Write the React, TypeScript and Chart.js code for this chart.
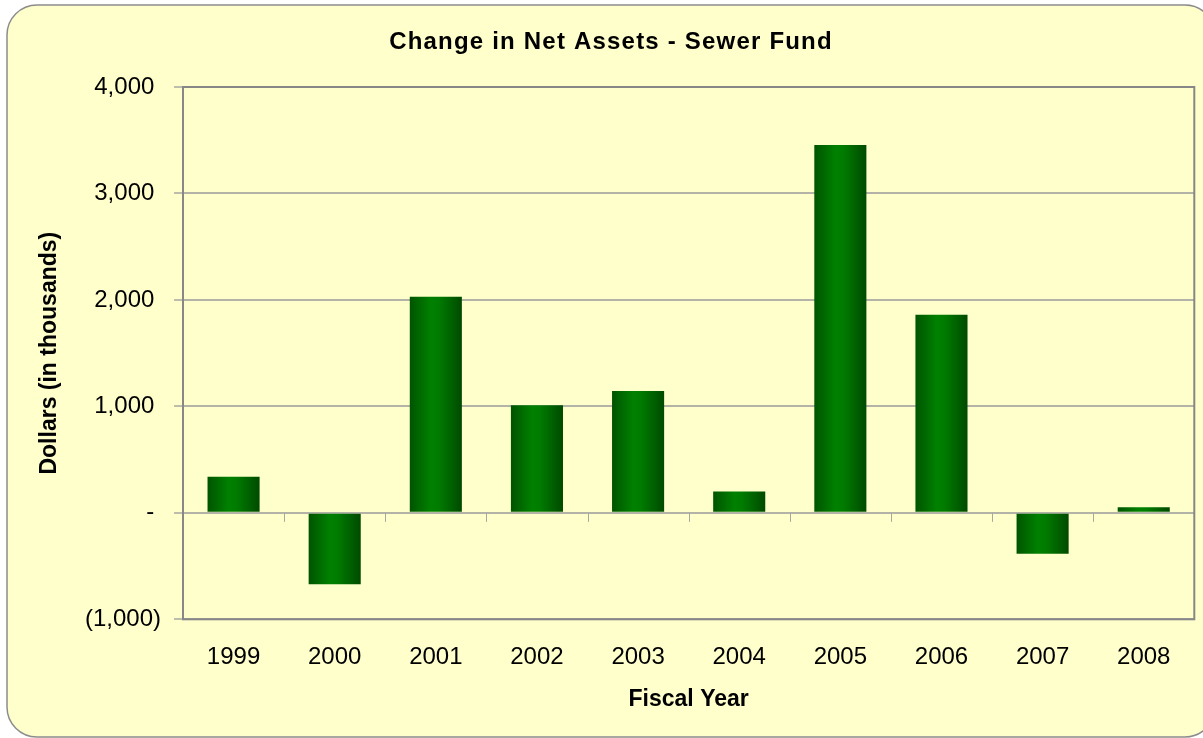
import React, { useEffect, useRef } from "react";
import { Chart, registerables } from "chart.js";

Chart.register(...registerables);

const chartTitle = "Change in Net Assets - Sewer Fund";
const xAxisTitle = "Fiscal Year";
const yAxisTitle = "Dollars (in thousands)";
const years = ["1999", "2000", "2001", "2002", "2003", "2004", "2005", "2006", "2007", "2008"];
const netAssetChange = [340, -670, 2030, 1010, 1145, 200, 3455, 1860, -385, 52];
const yTickValues = [-1000, 0, 1000, 2000, 3000, 4000];
const yTickLabels = ["(1,000)", "-", "1,000", "2,000", "3,000", "4,000"];

const W = 1203;
const H = 738;
const FONT = "'Liberation Sans', Arial, Helvetica, sans-serif";
const BAR_PCT = 0.515;

const backgroundPlugin = {
  id: "panelBackground",
  beforeDraw(chart: any) {
    const c = chart.ctx;
    c.save();
    c.fillStyle = "#ffffff";
    c.fillRect(0, 0, W, H);
    const x = 7, y = 5, w = 1215 - 7, h = 737 - 5, r = 30;
    c.beginPath();
    c.moveTo(x + r, y);
    c.lineTo(x + w - r, y);
    c.arcTo(x + w, y, x + w, y + r, r);
    c.lineTo(x + w, y + h - r);
    c.arcTo(x + w, y + h, x + w - r, y + h, r);
    c.lineTo(x + r, y + h);
    c.arcTo(x, y + h, x, y + h - r, r);
    c.lineTo(x, y + r);
    c.arcTo(x, y, x + r, y, r);
    c.closePath();
    c.fillStyle = "#FFFFCC";
    c.fill();
    c.lineWidth = 1.5;
    c.strokeStyle = "#8c8c8c";
    c.stroke();
    c.restore();
  },
  afterInit(chart: any) {
    const tb = chart.titleBlock;
    if (tb && !tb.__spaced) {
      const orig = tb.draw.bind(tb);
      tb.draw = (area: any) => {
        const c = chart.ctx;
        c.save();
        try { c.letterSpacing = "1.2px"; } catch (e) {}
        orig(area);
        c.restore();
      };
      tb.__spaced = true;
    }
  },
  beforeDatasetsDraw(chart: any) {
    const c = chart.ctx;
    const a = chart.chartArea;
    const xs = chart.scales.x;
    const ys = chart.scales.y;
    const zeroY = ys.getPixelForValue(0);
    c.save();
    c.strokeStyle = "#a8a8a0";
    c.lineWidth = 1;
    for (let i = 1; i < years.length; i++) {
      const bx = Math.round((xs.getPixelForValue(i - 1) + xs.getPixelForValue(i)) / 2) + 0.5;
      c.beginPath();
      c.moveTo(bx, zeroY);
      c.lineTo(bx, zeroY + 9);
      c.stroke();
    }
    c.strokeStyle = "#878787";
    c.lineWidth = 2;
    c.strokeRect(a.left, a.top, a.right - a.left, a.bottom - a.top);
    c.restore();
  },
};

function barGradient(ctx: any) {
  const chart = ctx.chart;
  const xs = chart.scales && chart.scales.x;
  if (!chart.chartArea || !xs || ctx.dataIndex == null) return "#007800";
  const center = xs.getPixelForValue(ctx.dataIndex);
  const w = (xs.width / years.length) * BAR_PCT;
  const g = chart.ctx.createLinearGradient(center - w / 2, 0, center + w / 2, 0);
  g.addColorStop(0, "#005400");
  g.addColorStop(0.4, "#008000");
  g.addColorStop(0.55, "#007c00");
  g.addColorStop(1, "#004a00");
  return g;
}

export default function App() {
  const ref = useRef<HTMLCanvasElement | null>(null);
  useEffect(() => {
    if (!ref.current) return;
    const chart = new Chart(ref.current, {
      type: "bar",
      data: {
        labels: years,
        datasets: [
          {
            label: "Change in Net Assets",
            data: netAssetChange,
            backgroundColor: barGradient,
            borderWidth: 0,
            barPercentage: BAR_PCT,
            categoryPercentage: 1,
          },
        ],
      },
      options: {
        responsive: false,
        animation: false,
        devicePixelRatio: 1,
        layout: { padding: { left: 27.7, right: 8.7, top: 0, bottom: 0 } },
        plugins: {
          legend: { display: false },
          tooltip: { enabled: false },
          title: {
            display: true,
            text: chartTitle,
            color: "#000",
            font: { family: FONT, size: 24, weight: "bold", lineHeight: 1.2 },
            padding: { top: 28, bottom: 30.2 },
          },
        },
        scales: {
          x: {
            grid: { display: false, drawTicks: false },
            border: { display: false },
            ticks: {
              color: "#000",
              font: { family: FONT, size: 24 },
              padding: 24,
              maxRotation: 0,
              autoSkip: false,
            },
            title: {
              display: true,
              text: xAxisTitle,
              color: "#000",
              font: { family: FONT, size: 23, weight: "bold", lineHeight: 1.2 },
              padding: { top: 0, bottom: 25 },
            },
            afterFit(scale: any) {
              scale.height = 118.7;
            },
          },
          y: {
            min: -1000,
            max: 4000,
            grid: {
              color: "#b3b3a7",
              lineWidth: 2,
              tickColor: "#bdbdab",
              tickLength: 9,
              tickWidth: 2,
            },
            border: { display: false },
            ticks: {
              stepSize: 1000,
              color: "#000",
              font: { family: FONT, size: 24 },
              padding: 13,
              callback: (v: any) => {
                const i = yTickValues.indexOf(Number(v));
                if (i < 0) return "";
                return Number(v) < 0 ? yTickLabels[i] : yTickLabels[i] + "\u00a0";
              },
            },
            title: {
              display: true,
              text: yAxisTitle,
              color: "#000",
              font: { family: FONT, size: 23, weight: "bold", lineHeight: 1.2 },
              padding: { top: 8, bottom: 0 },
            },
            afterFit(scale: any) {
              scale.width = 155.3;
            },
          },
        },
      },
      plugins: [backgroundPlugin],
    });
    return () => chart.destroy();
  }, []);
  return (
    <div style={{ position: "absolute", left: 0, top: 0, width: W, height: H }}>
      <canvas ref={ref} width={W} height={H} style={{ display: "block" }} />
    </div>
  );
}
